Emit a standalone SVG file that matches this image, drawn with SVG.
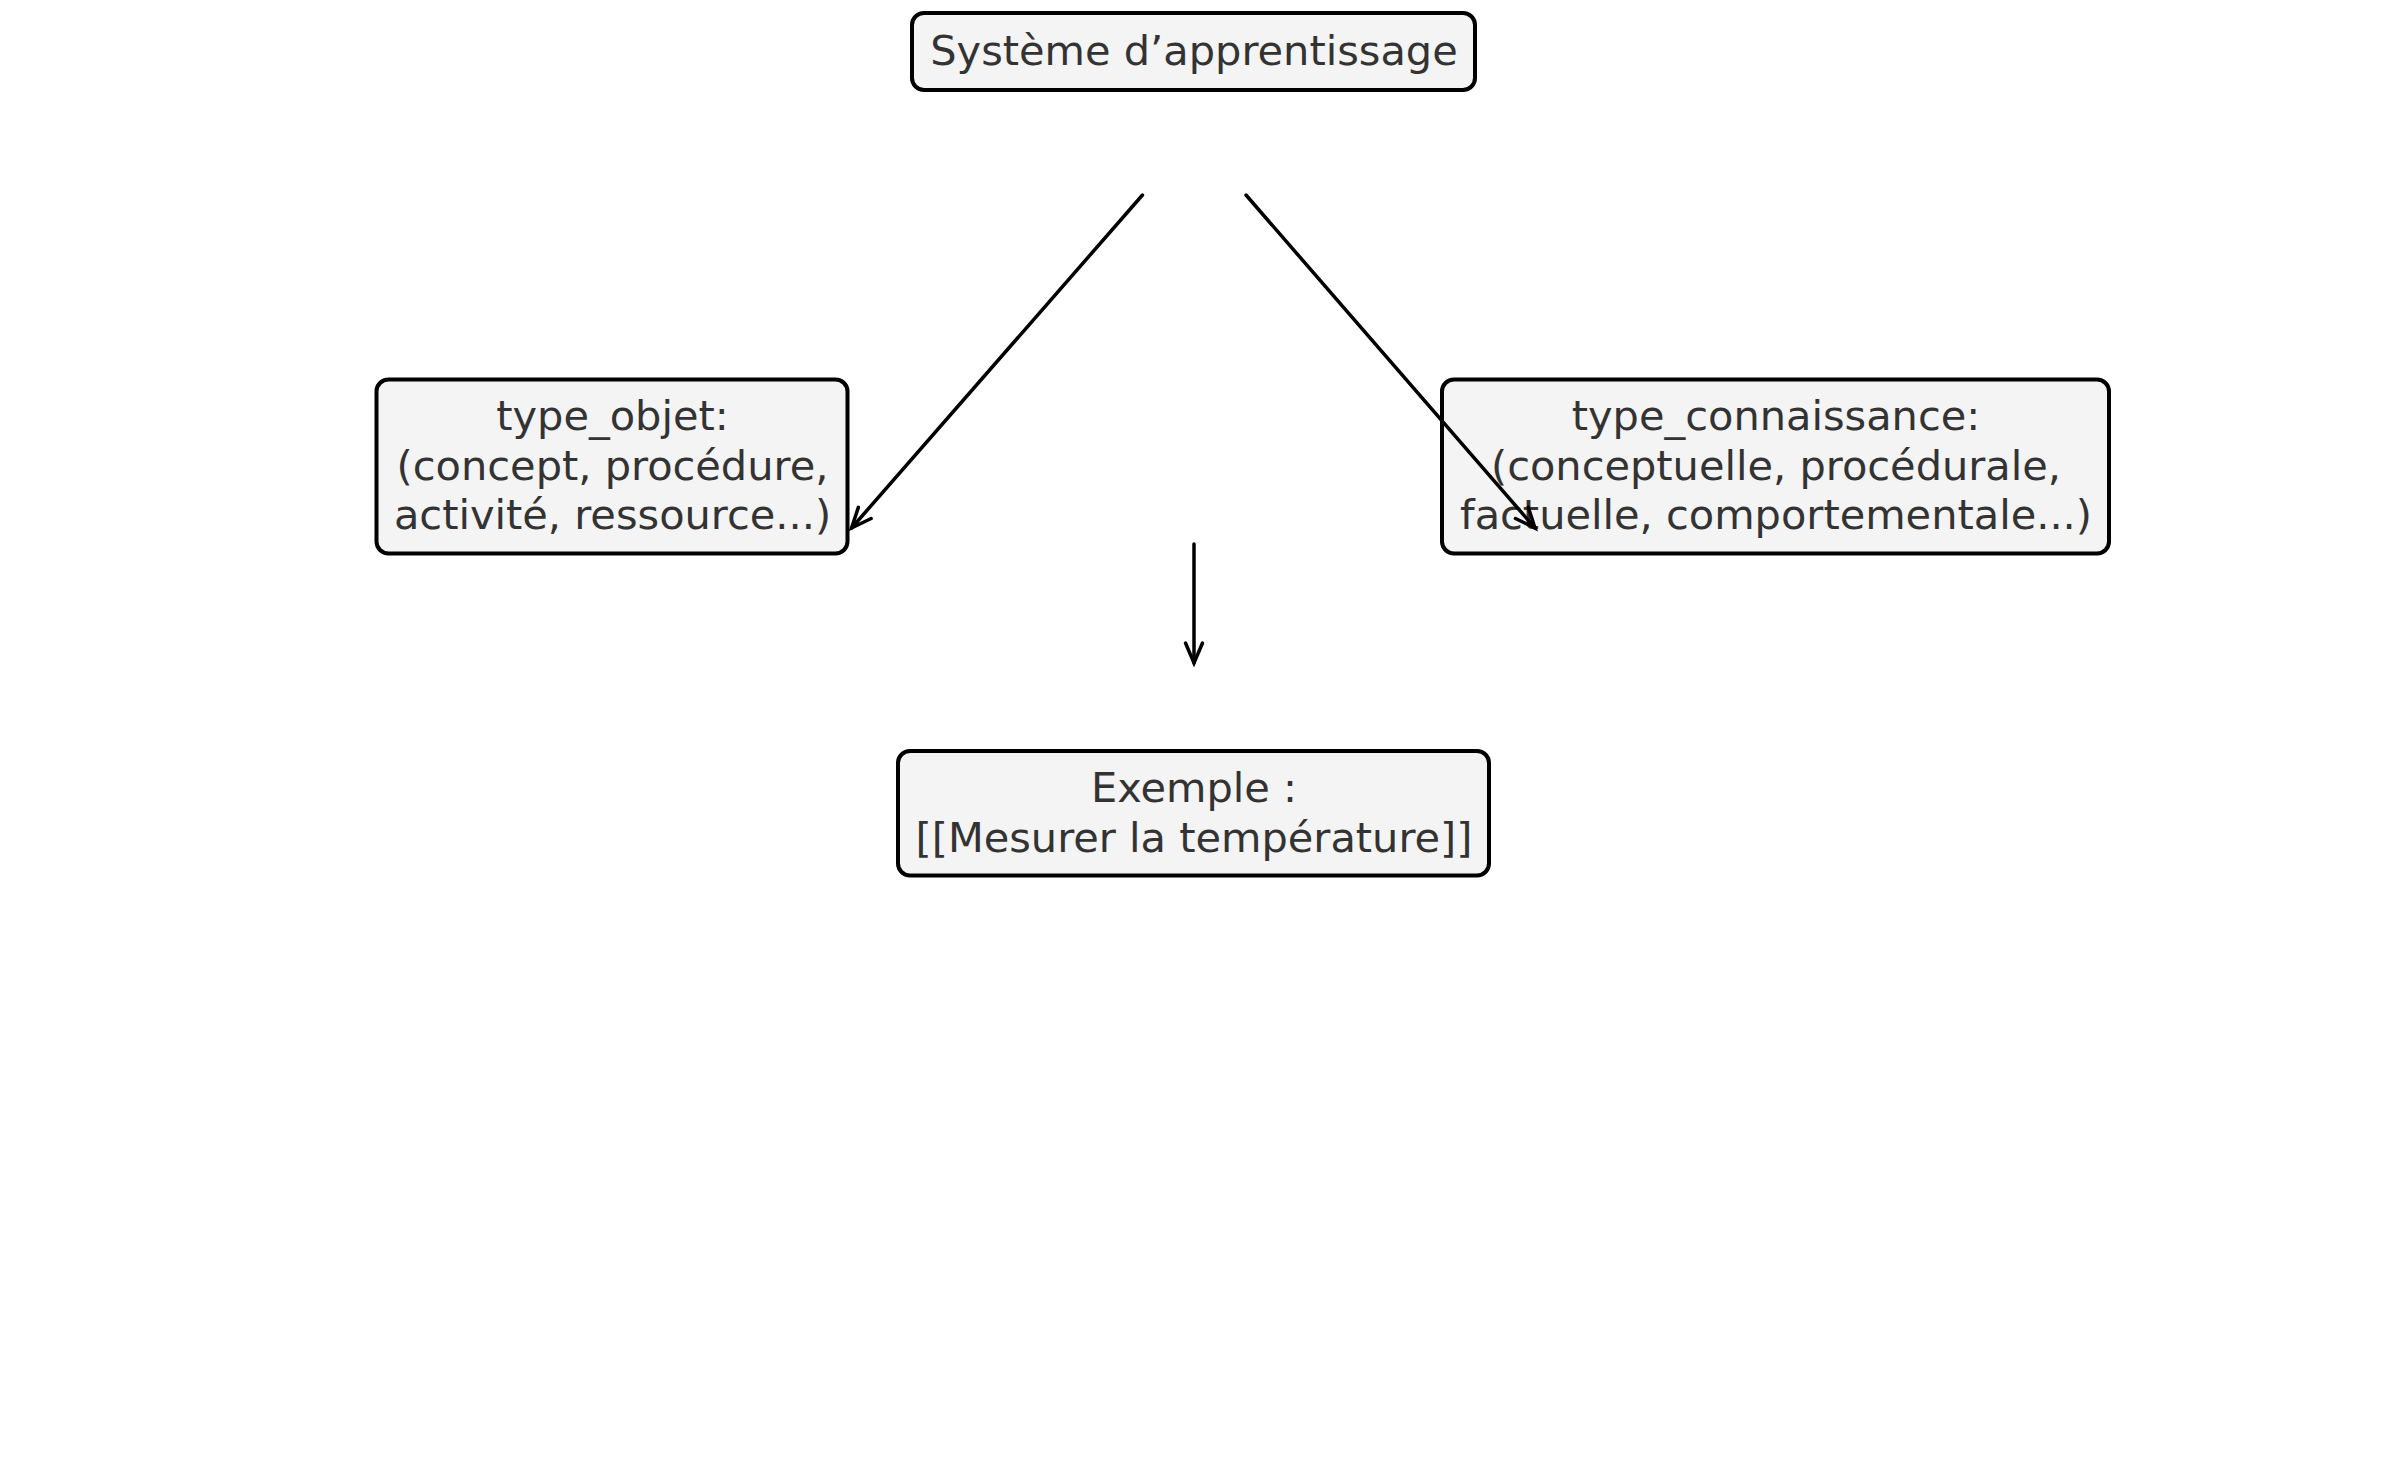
<svg xmlns="http://www.w3.org/2000/svg" width="2385" height="1467" viewBox="0 0 2385 1467">
<style>
.box{fill:#f4f4f4;stroke:#000;stroke-width:4}
.t{font-family:"DejaVu Sans",sans-serif;font-size:41.5px;fill:#333;text-anchor:middle}
.c{stroke:#000;stroke-width:3.5;fill:none;stroke-linecap:round}
</style>
<defs>
<marker id="ah" markerUnits="userSpaceOnUse" markerWidth="30" markerHeight="30" viewBox="-25 -15 30 30" refX="0" refY="0" orient="auto">
<path d="M-20,-8.5 L0,0 L-20,8.5" fill="none" stroke="#000" stroke-width="3.5" stroke-linecap="round" stroke-linejoin="miter"/>
</marker>
</defs>
<rect width="2385" height="1467" fill="#fff"/>
<g id="n_systeme">
<rect class="box" x="912" y="13" width="563" height="77" rx="12"/>
<text class="t" x="1194" y="65">Système d’apprentissage</text>
</g>
<g id="n_type_objet">
<rect class="box" x="376.5" y="379.5" width="471" height="174" rx="12"/>
<text class="t" x="612.5" y="430">type_objet:</text>
<text class="t" x="612.5" y="480">(concept, procédure,</text>
<text class="t" x="612.5" y="529">activité, ressource...)</text>
</g>
<g id="n_type_connaissance">
<rect class="box" x="1442" y="379.5" width="667" height="174" rx="12"/>
<text class="t" x="1776" y="430">type_connaissance:</text>
<text class="t" x="1776" y="480">(conceptuelle, procédurale,</text>
<text class="t" x="1776" y="529">factuelle, comportementale...)</text>
</g>
<g id="n_exemple">
<rect class="box" x="898" y="751" width="591" height="124.5" rx="12"/>
<text class="t" x="1194" y="802">Exemple :</text>
<text class="t" x="1194" y="852">[[Mesurer la température]]</text>
</g>
<g id="connectors">
<line class="c" x1="1142.5" y1="195" x2="851.6" y2="528" marker-end="url(#ah)"/>
<line class="c" x1="1246" y1="195" x2="1535" y2="528" marker-end="url(#ah)"/>
<line class="c" x1="1194" y1="544" x2="1194" y2="663" marker-end="url(#ah)"/>
</g>
</svg>
